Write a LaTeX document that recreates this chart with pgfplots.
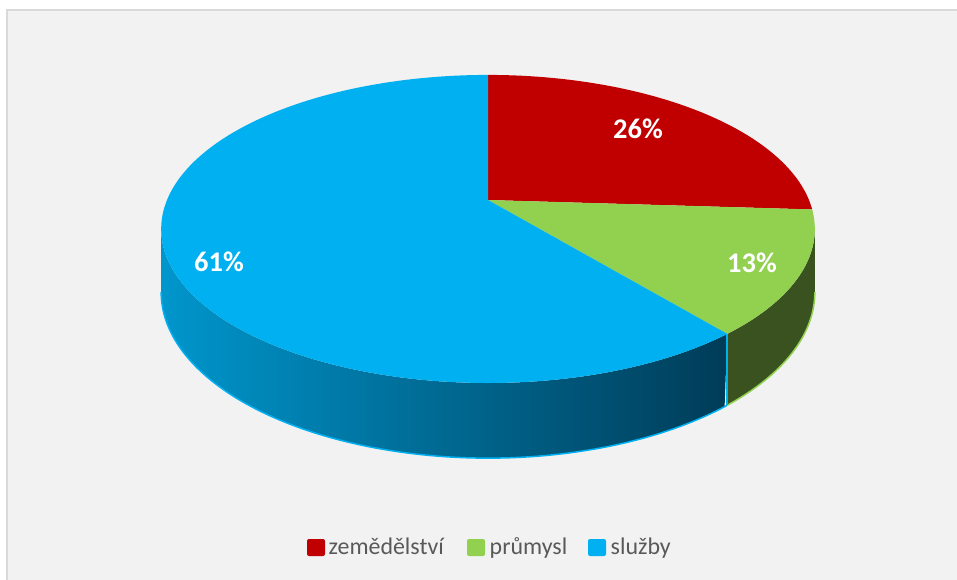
\documentclass[border=0pt]{standalone}
\usepackage{pgfplots}
\pgfplotsset{compat=1.18}
\usepackage{pgfplotstable}
\usepackage{fontspec}
\setmainfont{Carlito}

\definecolor{cred}{HTML}{C00000}
\definecolor{cgreen}{HTML}{92D050}
\definecolor{cblue}{HTML}{00B0F0}
\definecolor{bg}{HTML}{F2F2F2}
\definecolor{frame}{HTML}{D9D9D9}
\definecolor{legtext}{HTML}{595959}
\definecolor{greenside}{HTML}{3A5220}
\definecolor{blueL}{HTML}{0096CC}
\definecolor{blueD}{HTML}{003C58}

% share of each sector in percent
\pgfplotstableread{
sector value
zemědělství 26
průmysl 13
služby 61
}\piedata

\begin{document}
\begin{tikzpicture}
\pgfplotstablegetelem{0}{value}\of\piedata \let\va\pgfplotsretval
\pgfplotstablegetelem{1}{value}\of\piedata \let\vb\pgfplotsretval
\pgfplotstablegetelem{2}{value}\of\piedata \let\vc\pgfplotsretval
% angles, clockwise from 12 o'clock
\pgfmathsetmacro\tA{90}
\pgfmathsetmacro\tB{\tA-3.6*\va}
\pgfmathsetmacro\tC{\tB-3.6*\vb}
\pgfmathsetmacro\tD{\tC-3.6*\vc}
\begin{axis}[
  width=9.57cm, height=5.79cm, scale only axis,
  xmin=0, xmax=957, ymin=0, ymax=579, y dir=reverse,
  hide axis, clip=true,
  declare function={
    pd(\t)=1+0.188*sin(\t);
    px(\t)=488+321*cos(\t)/pd(\t);
    py(\t)=200-148.6*sin(\t)/pd(\t);
    pb(\t)=py(\t)+61/pd(\t);
    sx(\t,\a,\b)=(\t<1.0001)*px(\a+(\b-\a)*min(\t,1))+(\t>=1.0001)*px(\b+(\a-\b)*max(\t-1,0));
    sy(\t,\a,\b)=(\t<1.0001)*py(\a+(\b-\a)*min(\t,1))+(\t>=1.0001)*pb(\b+(\a-\b)*max(\t-1,0));
  },
]
\fill[white] (axis cs:0,0) rectangle (axis cs:957,579);
\filldraw[fill=bg, draw=frame, line width=0.25mm] (axis cs:7,10) rectangle (axis cs:970,590);

% side walls
\addplot[draw=none, left color=blueL, right color=blueD, domain=0:2, samples=401, variable=\t]
  ({sx(\t,-169.2,\tC)},{sy(\t,-169.2,\tC)});
\addplot[draw=none, fill=greenside, domain=0:2, samples=401, variable=\t]
  ({sx(\t,\tC,-10.8)},{sy(\t,\tC,-10.8)});
\addplot[cblue, line width=0.15mm, domain=-169.2:\tC, samples=100, variable=\t] ({px(\t)},{pb(\t)});
\addplot[cgreen, line width=0.15mm, domain=\tC:-10.8, samples=60, variable=\t] ({px(\t)},{pb(\t)});
\addplot[cblue, line width=0.2mm, domain=0:1, samples=2, variable=\s] ({px(\tC)},{py(\tC)+\s*61/pd(\tC)});

% top faces
\addplot[draw=none, fill=cred, domain=\tB:\tA, samples=80, variable=\t] ({px(\t)},{py(\t)}) -- (axis cs:488,200) -- cycle;
\addplot[draw=none, fill=cgreen, domain=\tC:\tB, samples=60, variable=\t] ({px(\t)},{py(\t)}) -- (axis cs:488,200) -- cycle;
\addplot[draw=none, fill=cblue, domain=\tD:\tC, samples=200, variable=\t] ({px(\t)},{py(\t)}) -- (axis cs:488,200) -- cycle;

% data labels
\begin{scope}[every node/.style={text=white, font=\bfseries\fontsize{8.1}{9}\selectfont}]
\node at (axis cs:638,129) {\va\%};
\node at (axis cs:752,263) {\vb\%};
\node at (axis cs:219,262) {\vc\%};
\end{scope}

% legend
\begin{scope}[every node/.style={text=legtext, font=\fontsize{6.8}{8}\selectfont, anchor=base west, inner sep=0pt}]
\fill[cred, rounded corners=0.2mm] (axis cs:307,539) rectangle (axis cs:325,556);
\node at (axis cs:328,554) {zemědělství};
\fill[cgreen, rounded corners=0.2mm] (axis cs:467,539) rectangle (axis cs:485,556);
\node at (axis cs:489,554) {průmysl};
\fill[cblue, rounded corners=0.2mm] (axis cs:588,539) rectangle (axis cs:606,556);
\node at (axis cs:610,554) {služby};
\end{scope}
\end{axis}
\end{tikzpicture}
\end{document}
